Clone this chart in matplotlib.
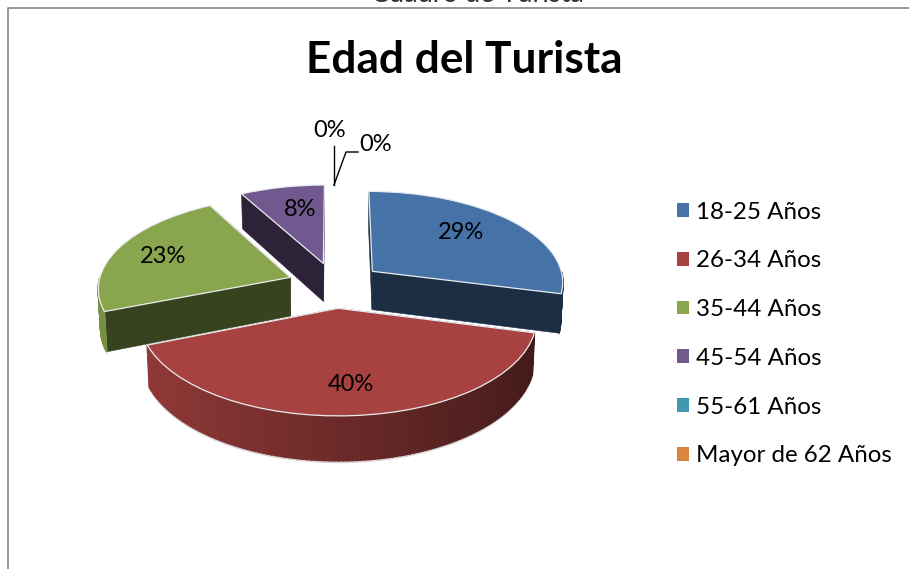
import numpy as np
import matplotlib
matplotlib.use("Agg")
import matplotlib.pyplot as plt
from matplotlib.transforms import Transform
from matplotlib.patches import Polygon
from matplotlib.colors import to_rgb

categories = ["18-25 Años", "26-34 Años", "35-44 Años", "45-54 Años", "55-61 Años", "Mayor de 62 Años"]
values = [29, 40, 23, 8, 0, 0]
colors = ["#4572A7", "#A74240", "#89A54E", "#71588F", "#4198AF", "#DB843D"]
pct_labels = ["29%", "40%", "23%", "8%", "0%", "0%"]
label_pos = [(461, 232), (351, 384), (163, 256), (300, 209), (330, 130), (376, 144)]

CX, CY, A, B, K = 335.0, 285.0, 192.0, 91.0, 0.105
DEPTH = 39.0
EXPLODE = 0.25

plt.rcParams["font.family"] = ["Lato", "DejaVu Sans"]
fig = plt.figure(figsize=(9.09, 5.69), dpi=100)
ax = fig.add_axes([0, 0, 1, 1])


def project(uv, drop=0.0):
    uv = np.asarray(uv, float)
    p = 1.0 / (1.0 + K * uv[..., 1])
    x = CX + A * uv[..., 0] * p
    y = CY - B * uv[..., 1] * p
    if drop:
        x = CX + (x - CX) * 0.99
        y = y + drop * p
    return np.stack([x, y], axis=-1)


class Perspective(Transform):
    input_dims = output_dims = 2
    is_affine = False

    def transform_non_affine(self, values):
        return project(values)


wedges, _ = ax.pie(values, colors=colors, startangle=90, counterclock=False,
                   explode=[EXPLODE] * len(values), radius=1.0)
ax.set_aspect("auto")
ax.set_xlim(0, 909)
ax.set_ylim(569, 0)
ax.axis("off")
persp = Perspective()


def shade(c, f):
    return tuple(np.array(to_rgb(c)) * f)


def quad(top_a, top_b, color, z, lw=0.4):
    pts = np.array([top_a, top_b])
    low = project(pts, drop=DEPTH)
    up = project(pts)
    ax.add_patch(Polygon([up[0], up[1], low[1], low[0]], closed=True, fc=color, ec=color,
                         lw=lw, zorder=z))


for i in [3, 0, 2, 1]:
    w, col = wedges[i], colors[i]
    base = 2 + {3: 0, 0: 1, 2: 2, 1: 3}[i] * 2
    c = np.array(w.center)
    th = np.radians(np.linspace(w.theta1, w.theta2, 121))
    rim = c + np.stack([np.cos(th), np.sin(th)], axis=1)
    # cut faces
    quad(c, rim[0], shade(col, 0.40), base)
    quad(c, rim[-1], shade(col, 0.40), base)
    # outer wall, shaded left to right
    front = np.sin(th) <= 0.0
    for j in range(len(th) - 1):
        if front[j] and front[j + 1]:
            f = 0.64 - 0.24 * np.cos(th[j])
            quad(rim[j], rim[j + 1], shade(col, f), base + 0.1, lw=1.2)
    if front.sum() > 1:
        lo = project(rim[front], drop=DEPTH + 1.5)
        ax.plot(lo[:, 0], lo[:, 1], color="#d4d4d4", lw=1.0, zorder=base - 0.5)
    # top face comes from the pie wedge itself
    w.set_transform(persp + ax.transData)
    w.set_clip_on(False)
    w.set_edgecolor("#e9ecef")
    w.set_linewidth(0.9)
    w.set_zorder(base + 0.5)

for txt, (x, y) in zip(pct_labels, label_pos):
    ax.text(x, y, txt, fontsize=17, ha="center", va="center", color="black", zorder=20)

ax.plot([334, 334], [146, 185], color="black", lw=1.0, zorder=15)
ax.plot([334, 346, 358], [185, 152, 152], color="black", lw=1.0, zorder=15)

ax.text(464, 60, "Edad del Turista", fontsize=31.8, fontweight="bold", ha="center", va="center", color="black")
ax.text(477, -5.5, "Cuadro de Turista", fontsize=19.5, ha="center", va="center", color="#333333", clip_on=False)

ax.plot([7.5, 7.5, 909], [569, 7.5, 7.5], color="#868686", lw=1.2, zorder=1)

leg = ax.legend(wedges, categories, loc="upper left", bbox_to_anchor=(677 / 909, 1 - 201.5 / 569),
                frameon=False, fontsize=17.4, handlelength=0.5, handleheight=0.5,
                handletextpad=0.3, labelspacing=1.15, borderpad=0, borderaxespad=0)
for h, col in zip(leg.get_patches(), colors):
    h.set_facecolor(col)
    h.set_edgecolor("none")

for i in [4, 5]:
    wedges[i].set_visible(False)

fig.savefig("out.png", dpi=100)
